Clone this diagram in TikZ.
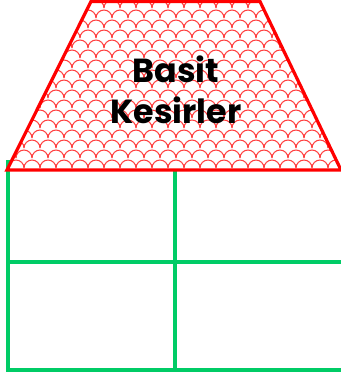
\documentclass[tikz,border=0pt]{standalone}
\usepackage{fontspec}
\setmainfont{Poppins}[BoldFont={* Bold}]
\definecolor{gridgreen}{HTML}{00CC66}
\begin{document}
\begin{tikzpicture}[x=0.75pt,y=-0.75pt,
  roof/.style={draw=red,line width=2.4pt,line join=miter},
  scale line/.style={draw=red!75,line width=0.8pt},
  grid/.style={draw=gridgreen,line width=2.4pt},
  title/.style={font=\bfseries\fontsize{25}{31}\selectfont,align=center,text=black}]
\useasboundingbox (0,0) rectangle (341,376);
% green table
\coordinate (tl) at (8,160);
\coordinate (bl) at (8,370);
\coordinate (tm) at (175,170);
\coordinate (bm) at (175,370);
\coordinate (ml) at (8,262);
\coordinate (mr) at (345,262);
\coordinate (br) at (345,370);
\draw[grid] (tl) -- (bl) -- (br);
\draw[grid] (tm) -- (bm);
\draw[grid] (ml) -- (mr);
% roof
\coordinate (a) at (91,1.5);
\coordinate (b) at (260,1.5);
\coordinate (c) at (341,170);
\coordinate (d) at (7,170);
\begin{scope}
\clip (a) -- (b) -- (c) -- (d) -- cycle;
\foreach \j in {0,...,19}{
  \pgfmathsetmacro{\yy}{-2+\j*10}
  \pgfmathsetmacro{\off}{mod(\j,2)*8}
  \foreach \i in {-2,...,24}{
    \draw[scale line] ({\i*16+\off},\yy) arc[start angle=180,end angle=360,x radius=8,y radius=8];
  }
}
\end{scope}
\draw[roof] (a) -- (b) -- (c) -- (d) -- cycle;
\node[title] (t) at (176,90) {Basit\\Kesirler};
\end{tikzpicture}
\end{document}
